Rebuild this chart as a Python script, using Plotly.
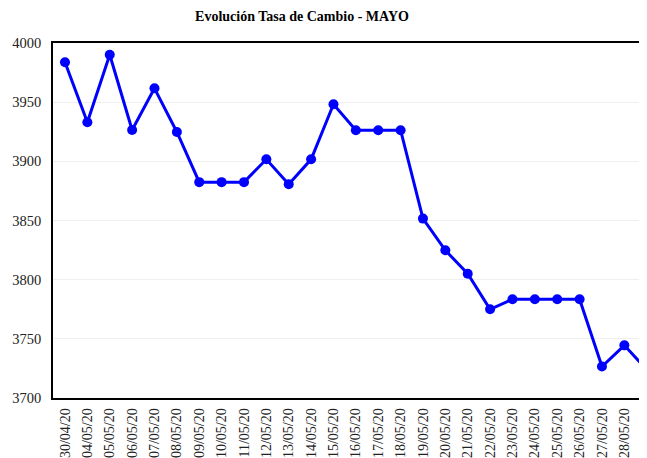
import plotly.graph_objects as go

fechas = ["30/04/20", "04/05/20", "05/05/20", "06/05/20", "07/05/20", "08/05/20",
          "09/05/20", "10/05/20", "11/05/20", "12/05/20", "13/05/20", "14/05/20",
          "15/05/20", "16/05/20", "17/05/20", "18/05/20", "19/05/20", "20/05/20",
          "21/05/20", "22/05/20", "23/05/20", "24/05/20", "25/05/20", "26/05/20",
          "27/05/20", "28/05/20", "29/05/20"]
tasa = [3983.7, 3933.0, 3990.1, 3926.5, 3961.7, 3924.8,
        3882.4, 3882.4, 3882.4, 3901.7, 3880.6, 3901.7,
        3948.2, 3926.3, 3926.3, 3926.3, 3851.6, 3824.8,
        3805.0, 3775.0, 3783.4, 3783.4, 3783.4, 3783.4,
        3726.6, 3744.5, 3724.0]
y_ticks = [3700, 3750, 3800, 3850, 3900, 3950, 4000]

SERIF = "Liberation Serif, Times New Roman, serif"

fig = go.Figure()
fig.add_trace(go.Scatter(
    x=fechas, y=tasa, mode="lines+markers",
    line=dict(color="#0000FF", width=3),
    marker=dict(color="#0000FF", size=10),
    showlegend=False,
))

fig.update_layout(
    width=647, height=458,
    margin=dict(l=45, r=0, t=35, b=68, autoexpand=False),
    paper_bgcolor="white", plot_bgcolor="white",
    title=dict(text="<b>Evolución Tasa de Cambio - MAYO</b>",
               font=dict(family=SERIF, size=14, color="black"),
               x=0.4544, xanchor="center", y=0.9825, yanchor="middle"),
    font=dict(family=SERIF, color="black"),
)
fig.update_xaxes(
    type="category", range=[-0.536, 26.37],
    tickangle=-90, tickfont=dict(family=SERIF, size=14, color="#222"),
    showline=True, linecolor="black", linewidth=1.5, mirror=True,
    showgrid=False, ticks="", ticklabelstandoff=3, automargin=False,
)
fig.update_yaxes(
    range=[3700, 4000], tickvals=y_ticks,
    tickfont=dict(family=SERIF, size=14.5, color="#222"),
    showline=True, linecolor="black", linewidth=1.5, mirror=False,
    showgrid=True, gridcolor="#efefef", gridwidth=1,
    zeroline=False, ticks="", ticklabelstandoff=7, automargin=False,
)

fig.write_html("out.html")
